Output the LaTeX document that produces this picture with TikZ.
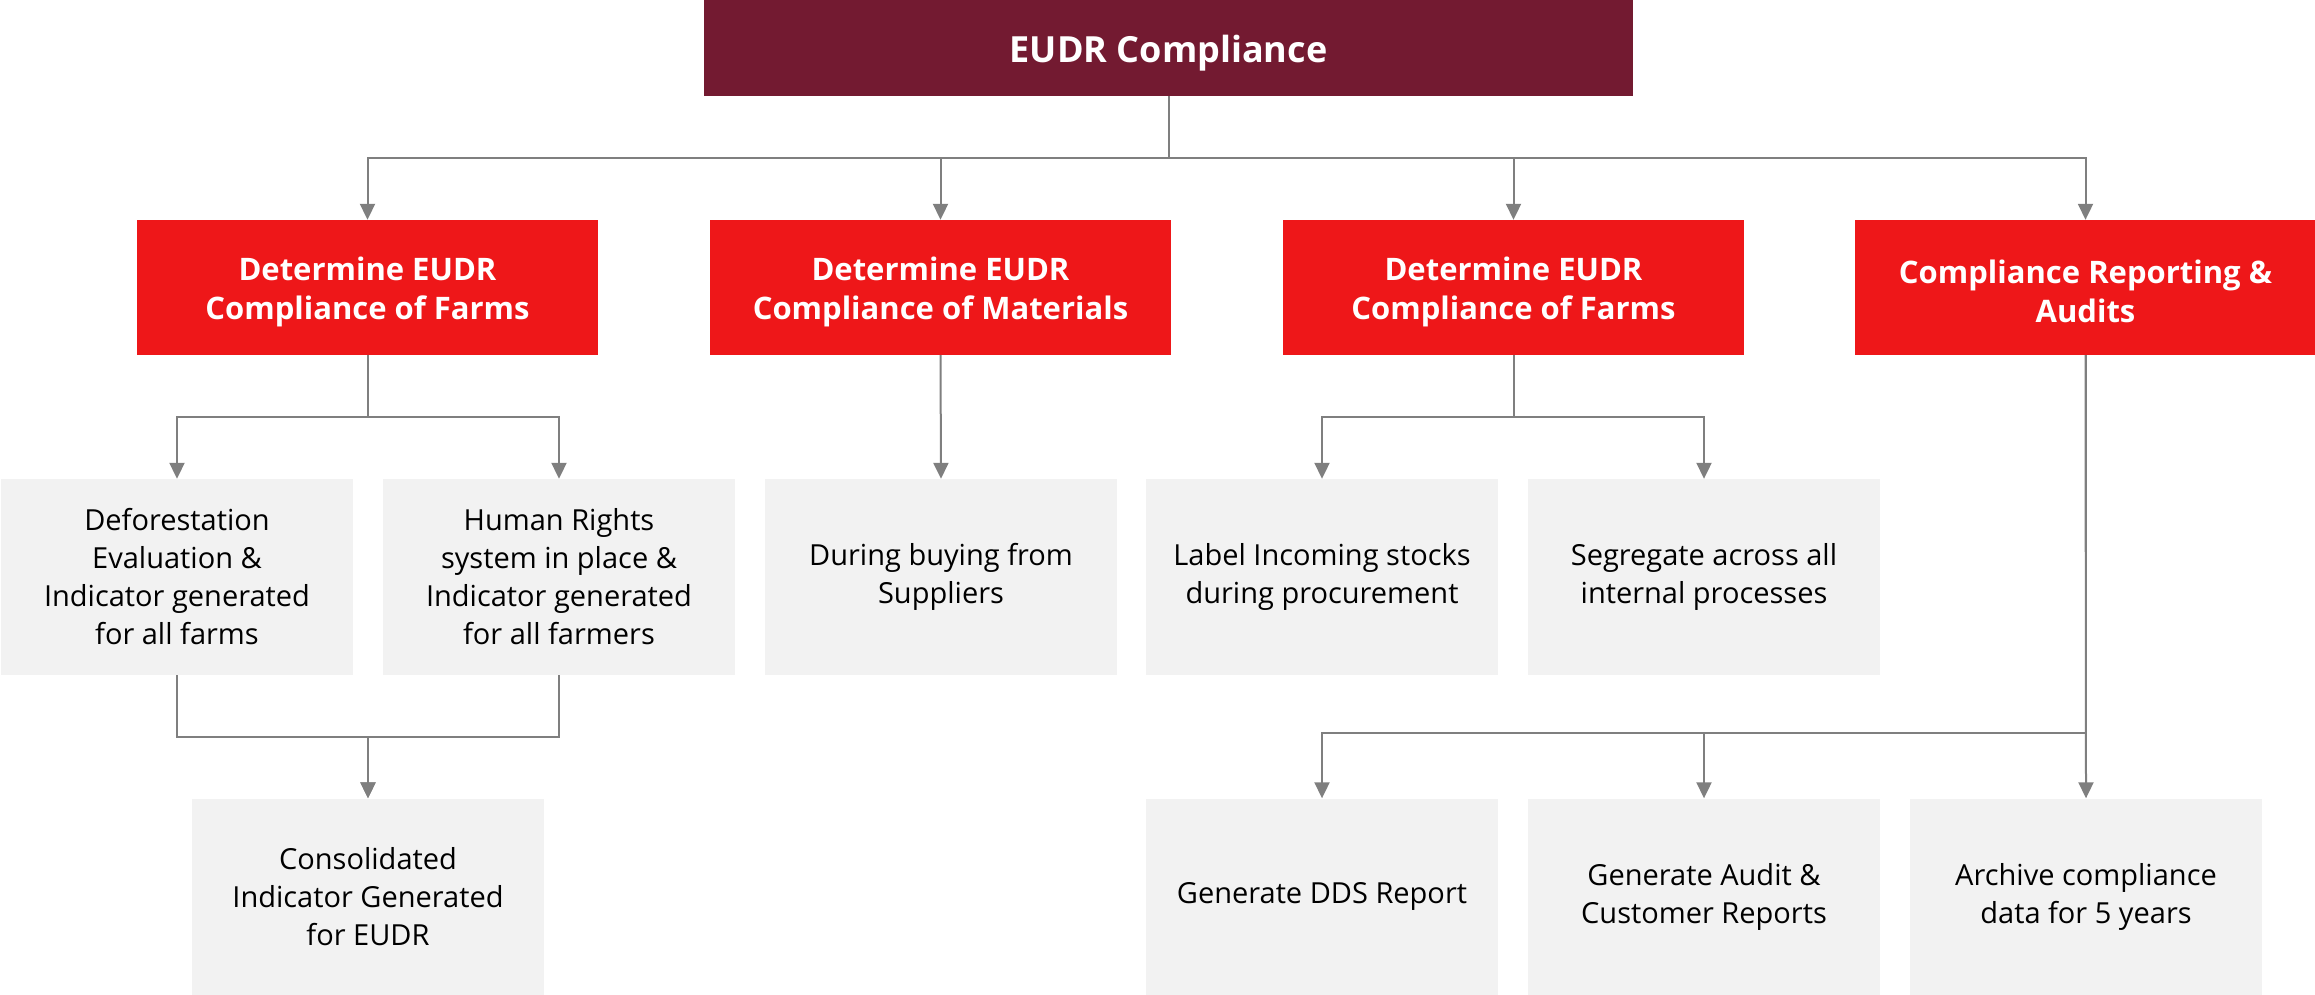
\documentclass[tikz,border=0pt]{standalone}
\usepackage{fontspec}
\setmainfont{Open Sans}
\usetikzlibrary{arrows.meta}
\definecolor{maroon}{HTML}{731A31}
\definecolor{boxred}{HTML}{EE1719}
\definecolor{boxgrey}{HTML}{F2F2F2}
\definecolor{linegrey}{HTML}{7F7F7F}
\begin{document}
\begin{tikzpicture}[x=1pt,y=-1pt,
  topbox/.style={fill=maroon,minimum width=929pt,minimum height=96pt,inner sep=0pt},
  toptext/.style={text=white,font=\fontsize{36}{44}\selectfont\bfseries,inner sep=0pt,align=center},
  redbox/.style={fill=boxred,minimum width=461pt,minimum height=135pt,inner sep=0pt},
  redtext/.style={text=white,font=\fontsize{31}{39}\selectfont\bfseries,inner sep=0pt,align=center},
  greybox/.style={fill=boxgrey,text=black,font=\fontsize{29}{38}\selectfont,minimum width=352pt,minimum height=196pt,inner sep=0pt,align=center},
  conn/.style={draw=linegrey,line width=2pt,-{Triangle[width=15pt,length=16pt]}}
]
\useasboundingbox (0,0) rectangle (2315,994);
\node[topbox] (top) at (1168.5,48) {};
\node[toptext] (topt) at ([yshift=-5pt]top.center) {EUDR Compliance};
\node[redbox] (b1) at (367.5,287.5) {};
\node[redbox] (b2) at (940.5,287.5) {};
\node[redbox] (b3) at (1513.5,287.5) {};
\node[redbox] (b4) at (2085.5,287.5) {};
\node[redtext] (b1t) at ([yshift=-4pt]b1.center) {Determine EUDR\\Compliance of Farms};
\node[redtext] (b2t) at ([yshift=-4pt]b2.center) {Determine EUDR\\Compliance of Materials};
\node[redtext] (b3t) at ([yshift=-4pt]b3.center) {Determine EUDR\\Compliance of Farms};
\node[redtext] (b4t) at ([yshift=-4pt]b4.center) {Compliance Reporting \&\\Audits};
\node[greybox] (a) at (177,577) {Deforestation\\Evaluation \&\\Indicator generated\\for all farms};
\node[greybox] (b) at (559,577) {Human Rights\\system in place \&\\Indicator generated\\for all farmers};
\node[greybox] (c) at (941,577) {During buying from\\Suppliers};
\node[greybox] (d) at (1322,577) {Label Incoming stocks\\during procurement};
\node[greybox] (e) at (1704,577) {Segregate across all\\internal processes};
\node[greybox] (f) at (368,896.5) {Consolidated\\Indicator Generated\\for EUDR};
\node[greybox] (g) at (1322,896.5) {Generate DDS Report};
\node[greybox] (h) at (1704,896.5) {Generate Audit \&\\Customer Reports};
\node[greybox] (i) at (2086,896.5) {Archive compliance\\data for 5 years};
% top level
\foreach \t in {b1,b2,b3,b4}
  \draw[conn] (top.south) -- ++(0,62) -| (\t.north);
% farms
\draw[conn] (b1.south) -- ++(0,62) -| (a.north);
\draw[conn] (b1.south) -- ++(0,62) -| (b.north);
\draw[conn] (a.south) -- ++(0,62) -| (f.north);
\draw[conn] (b.south) -- ++(0,62) -| (f.north);
% materials
\draw[conn] (b2.south) -- (c.north);
% farms 2
\draw[conn] (b3.south) -- ++(0,62) -| (d.north);
\draw[conn] (b3.south) -- ++(0,62) -| (e.north);
% reporting
\draw[conn] (b4.south) -- (i.north);
\draw[conn] (b4.south) -- ++(0,378) -| (g.north);
\draw[conn] (b4.south) -- ++(0,378) -| (h.north);
\end{tikzpicture}
\end{document}
